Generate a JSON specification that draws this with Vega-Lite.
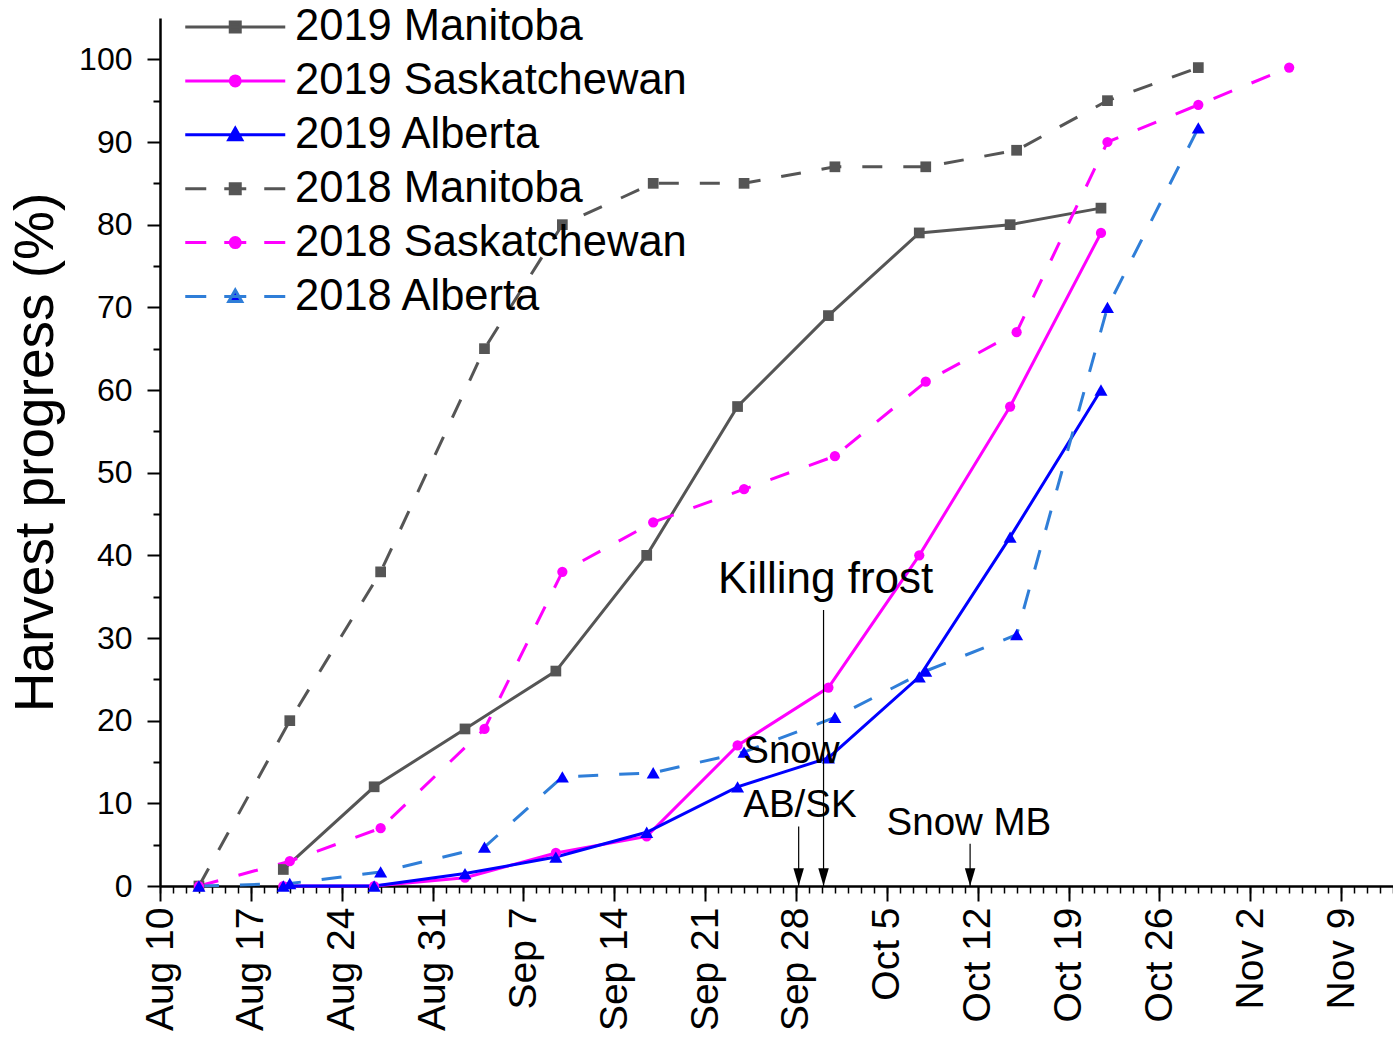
{
  "$schema": "https://vega.github.io/schema/vega-lite/v6.json",
  "width": 1233,
  "height": 868,
  "autosize": {"type": "none"},
  "padding": {"left": 160, "top": 18, "right": 0, "bottom": 153},
  "background": "white",
  "config": {"view": {"stroke": null}, "font": "Liberation Sans"},
  "datasets": {
    "progress": [
      {"series": "2019 Manitoba", "year": 2019, "province": "Manitoba", "day": "2019-08-19T12:00:00Z", "pct": 2},
      {"series": "2019 Manitoba", "year": 2019, "province": "Manitoba", "day": "2019-08-26T12:00:00Z", "pct": 12},
      {"series": "2019 Manitoba", "year": 2019, "province": "Manitoba", "day": "2019-09-02T12:00:00Z", "pct": 19},
      {"series": "2019 Manitoba", "year": 2019, "province": "Manitoba", "day": "2019-09-09T12:00:00Z", "pct": 26},
      {"series": "2019 Manitoba", "year": 2019, "province": "Manitoba", "day": "2019-09-16T12:00:00Z", "pct": 40},
      {"series": "2019 Manitoba", "year": 2019, "province": "Manitoba", "day": "2019-09-23T12:00:00Z", "pct": 58},
      {"series": "2019 Manitoba", "year": 2019, "province": "Manitoba", "day": "2019-09-30T12:00:00Z", "pct": 69},
      {"series": "2019 Manitoba", "year": 2019, "province": "Manitoba", "day": "2019-10-07T12:00:00Z", "pct": 79},
      {"series": "2019 Manitoba", "year": 2019, "province": "Manitoba", "day": "2019-10-14T12:00:00Z", "pct": 80},
      {"series": "2019 Manitoba", "year": 2019, "province": "Manitoba", "day": "2019-10-21T12:00:00Z", "pct": 82},
      {"series": "2019 Saskatchewan", "year": 2019, "province": "Saskatchewan", "day": "2019-08-19T12:00:00Z", "pct": 0},
      {"series": "2019 Saskatchewan", "year": 2019, "province": "Saskatchewan", "day": "2019-08-26T12:00:00Z", "pct": 0},
      {"series": "2019 Saskatchewan", "year": 2019, "province": "Saskatchewan", "day": "2019-09-02T12:00:00Z", "pct": 1},
      {"series": "2019 Saskatchewan", "year": 2019, "province": "Saskatchewan", "day": "2019-09-09T12:00:00Z", "pct": 4},
      {"series": "2019 Saskatchewan", "year": 2019, "province": "Saskatchewan", "day": "2019-09-16T12:00:00Z", "pct": 6},
      {"series": "2019 Saskatchewan", "year": 2019, "province": "Saskatchewan", "day": "2019-09-23T12:00:00Z", "pct": 17},
      {"series": "2019 Saskatchewan", "year": 2019, "province": "Saskatchewan", "day": "2019-09-30T12:00:00Z", "pct": 24},
      {"series": "2019 Saskatchewan", "year": 2019, "province": "Saskatchewan", "day": "2019-10-07T12:00:00Z", "pct": 40},
      {"series": "2019 Saskatchewan", "year": 2019, "province": "Saskatchewan", "day": "2019-10-14T12:00:00Z", "pct": 58},
      {"series": "2019 Saskatchewan", "year": 2019, "province": "Saskatchewan", "day": "2019-10-21T12:00:00Z", "pct": 79},
      {"series": "2019 Alberta", "year": 2019, "province": "Alberta", "day": "2019-08-19T12:00:00Z", "pct": 0},
      {"series": "2019 Alberta", "year": 2019, "province": "Alberta", "day": "2019-08-26T12:00:00Z", "pct": 0},
      {"series": "2019 Alberta", "year": 2019, "province": "Alberta", "day": "2019-09-02T12:00:00Z", "pct": 1.5},
      {"series": "2019 Alberta", "year": 2019, "province": "Alberta", "day": "2019-09-09T12:00:00Z", "pct": 3.5},
      {"series": "2019 Alberta", "year": 2019, "province": "Alberta", "day": "2019-09-16T12:00:00Z", "pct": 6.5},
      {"series": "2019 Alberta", "year": 2019, "province": "Alberta", "day": "2019-09-23T12:00:00Z", "pct": 12},
      {"series": "2019 Alberta", "year": 2019, "province": "Alberta", "day": "2019-09-30T12:00:00Z", "pct": 15.5},
      {"series": "2019 Alberta", "year": 2019, "province": "Alberta", "day": "2019-10-07T12:00:00Z", "pct": 25.3},
      {"series": "2019 Alberta", "year": 2019, "province": "Alberta", "day": "2019-10-14T12:00:00Z", "pct": 42.2},
      {"series": "2019 Alberta", "year": 2019, "province": "Alberta", "day": "2019-10-21T12:00:00Z", "pct": 60},
      {"series": "2018 Manitoba", "year": 2018, "province": "Manitoba", "day": "2019-08-13T00:00:00Z", "pct": 0},
      {"series": "2018 Manitoba", "year": 2018, "province": "Manitoba", "day": "2019-08-20T00:00:00Z", "pct": 20},
      {"series": "2018 Manitoba", "year": 2018, "province": "Manitoba", "day": "2019-08-27T00:00:00Z", "pct": 38},
      {"series": "2018 Manitoba", "year": 2018, "province": "Manitoba", "day": "2019-09-04T00:00:00Z", "pct": 65},
      {"series": "2018 Manitoba", "year": 2018, "province": "Manitoba", "day": "2019-09-10T00:00:00Z", "pct": 80},
      {"series": "2018 Manitoba", "year": 2018, "province": "Manitoba", "day": "2019-09-17T00:00:00Z", "pct": 85},
      {"series": "2018 Manitoba", "year": 2018, "province": "Manitoba", "day": "2019-09-24T00:00:00Z", "pct": 85},
      {"series": "2018 Manitoba", "year": 2018, "province": "Manitoba", "day": "2019-10-01T00:00:00Z", "pct": 87},
      {"series": "2018 Manitoba", "year": 2018, "province": "Manitoba", "day": "2019-10-08T00:00:00Z", "pct": 87},
      {"series": "2018 Manitoba", "year": 2018, "province": "Manitoba", "day": "2019-10-15T00:00:00Z", "pct": 89},
      {"series": "2018 Manitoba", "year": 2018, "province": "Manitoba", "day": "2019-10-22T00:00:00Z", "pct": 95},
      {"series": "2018 Manitoba", "year": 2018, "province": "Manitoba", "day": "2019-10-29T00:00:00Z", "pct": 99},
      {"series": "2018 Saskatchewan", "year": 2018, "province": "Saskatchewan", "day": "2019-08-13T00:00:00Z", "pct": 0},
      {"series": "2018 Saskatchewan", "year": 2018, "province": "Saskatchewan", "day": "2019-08-20T00:00:00Z", "pct": 3},
      {"series": "2018 Saskatchewan", "year": 2018, "province": "Saskatchewan", "day": "2019-08-27T00:00:00Z", "pct": 7},
      {"series": "2018 Saskatchewan", "year": 2018, "province": "Saskatchewan", "day": "2019-09-04T00:00:00Z", "pct": 19},
      {"series": "2018 Saskatchewan", "year": 2018, "province": "Saskatchewan", "day": "2019-09-10T00:00:00Z", "pct": 38},
      {"series": "2018 Saskatchewan", "year": 2018, "province": "Saskatchewan", "day": "2019-09-17T00:00:00Z", "pct": 44},
      {"series": "2018 Saskatchewan", "year": 2018, "province": "Saskatchewan", "day": "2019-09-24T00:00:00Z", "pct": 48},
      {"series": "2018 Saskatchewan", "year": 2018, "province": "Saskatchewan", "day": "2019-10-01T00:00:00Z", "pct": 52},
      {"series": "2018 Saskatchewan", "year": 2018, "province": "Saskatchewan", "day": "2019-10-08T00:00:00Z", "pct": 61},
      {"series": "2018 Saskatchewan", "year": 2018, "province": "Saskatchewan", "day": "2019-10-15T00:00:00Z", "pct": 67},
      {"series": "2018 Saskatchewan", "year": 2018, "province": "Saskatchewan", "day": "2019-10-22T00:00:00Z", "pct": 90},
      {"series": "2018 Saskatchewan", "year": 2018, "province": "Saskatchewan", "day": "2019-10-29T00:00:00Z", "pct": 94.5},
      {"series": "2018 Saskatchewan", "year": 2018, "province": "Saskatchewan", "day": "2019-11-05T00:00:00Z", "pct": 99},
      {"series": "2018 Alberta", "year": 2018, "province": "Alberta", "day": "2019-08-13T00:00:00Z", "pct": 0},
      {"series": "2018 Alberta", "year": 2018, "province": "Alberta", "day": "2019-08-20T00:00:00Z", "pct": 0.3},
      {"series": "2018 Alberta", "year": 2018, "province": "Alberta", "day": "2019-08-27T00:00:00Z", "pct": 1.7},
      {"series": "2018 Alberta", "year": 2018, "province": "Alberta", "day": "2019-09-04T00:00:00Z", "pct": 4.7},
      {"series": "2018 Alberta", "year": 2018, "province": "Alberta", "day": "2019-09-10T00:00:00Z", "pct": 13.2},
      {"series": "2018 Alberta", "year": 2018, "province": "Alberta", "day": "2019-09-17T00:00:00Z", "pct": 13.7},
      {"series": "2018 Alberta", "year": 2018, "province": "Alberta", "day": "2019-09-24T00:00:00Z", "pct": 16.2},
      {"series": "2018 Alberta", "year": 2018, "province": "Alberta", "day": "2019-10-01T00:00:00Z", "pct": 20.4},
      {"series": "2018 Alberta", "year": 2018, "province": "Alberta", "day": "2019-10-08T00:00:00Z", "pct": 26},
      {"series": "2018 Alberta", "year": 2018, "province": "Alberta", "day": "2019-10-15T00:00:00Z", "pct": 30.4},
      {"series": "2018 Alberta", "year": 2018, "province": "Alberta", "day": "2019-10-22T00:00:00Z", "pct": 70},
      {"series": "2018 Alberta", "year": 2018, "province": "Alberta", "day": "2019-10-29T00:00:00Z", "pct": 91.7}
    ],
    "arrows": [
      {"event": "Killing frost", "day": "2019-09-30T03:00:00Z", "base": 0, "top": 33.4},
      {"event": "Snow AB/SK", "day": "2019-09-28T05:00:00Z", "base": 0, "top": 7.2},
      {"event": "Snow MB", "day": "2019-10-11T10:00:00Z", "base": 0, "top": 5.1}
    ],
    "notes": [
      {"label": "Killing frost", "kind": "frost", "day": "2019-09-30T07:00:00Z", "pct": 35.4},
      {"label": "Snow", "kind": "snow", "day": "2019-09-23T22:30:00Z", "pct": 14.9},
      {"label": "AB/SK", "kind": "snow", "day": "2019-09-23T22:30:00Z", "pct": 8.4},
      {"label": "Snow MB", "kind": "snow", "day": "2019-10-04T23:30:00Z", "pct": 6.2}
    ]
  },
  "layer": [
    {
      "data": {"name": "progress"},
      "transform": [{"filter": "false"}],
      "mark": {"type": "point", "filled": true, "strokeWidth": 3, "opacity": 1},
      "encoding": {
        "x": {"field": "day", "type": "temporal", "axis": null},
        "y": {"field": "pct", "type": "quantitative", "axis": null},
        "fill": {
          "field": "series", "type": "nominal",
          "scale": {
            "domain": ["2019 Manitoba", "2019 Saskatchewan", "2019 Alberta", "2018 Manitoba", "2018 Saskatchewan", "2018 Alberta"],
            "range": ["#555555", "#ff00ff", "#0000ff", "#555555", "#ff00ff", "#0000ff"]
          },
          "legend": {
            "orient": "none", "legendX": 53.5, "legendY": -12.75, "title": null, "direction": "vertical",
            "padding": 0, "labelFontSize": 43.5, "labelFont": "Liberation Sans", "labelColor": "#000000",
            "labelLimit": 800, "labelOffset": 38, "rowPadding": 8.9,
            "symbolSize": 400, "symbolStrokeWidth": 3, "symbolOpacity": 1
          }
        },
        "stroke": {
          "field": "series", "type": "nominal",
          "scale": {
            "domain": ["2019 Manitoba", "2019 Saskatchewan", "2019 Alberta", "2018 Manitoba", "2018 Saskatchewan", "2018 Alberta"],
            "range": ["#555555", "#ff00ff", "#0000ff", "#555555", "#ff00ff", "#2f7ed8"]
          }
        },
        "shape": {
          "field": "series", "type": "nominal",
          "scale": {
            "domain": ["2019 Manitoba", "2019 Saskatchewan", "2019 Alberta", "2018 Manitoba", "2018 Saskatchewan", "2018 Alberta"],
            "range": [
              "M-5,0L5,0M-0.5,-0.5L0.5,-0.5L0.5,0.5L-0.5,0.5Z",
              "M-5,0L5,0M-0.5,0A0.5,0.5 0 1,0 0.5,0A0.5,0.5 0 1,0 -0.5,0Z",
              "M-5,0L5,0M0,-0.65L0.65,0.5L-0.65,0.5Z",
              "M-5,0L-2.9,0M-1.1,0L1.1,0M2.9,0L5,0M-0.5,-0.5L0.5,-0.5L0.5,0.5L-0.5,0.5Z",
              "M-5,0L-2.9,0M-1.1,0L1.1,0M2.9,0L5,0M-0.5,0A0.5,0.5 0 1,0 0.5,0A0.5,0.5 0 1,0 -0.5,0Z",
              "M-5,0L-2.9,0M-1.1,0L1.1,0M2.9,0L5,0M0,-0.65L0.65,0.5L-0.65,0.5Z"
            ]
          }
        }
      }
    },
    {
      "data": {"name": "progress"},
      "transform": [{"filter": "datum.year === 2019"}],
      "mark": {"type": "line", "strokeWidth": 3},
      "encoding": {
        "x": {
          "field": "day", "type": "temporal",
          "scale": {"type": "utc", "nice": false, "domain": [
            {"year": 2019, "month": "aug", "date": 10, "utc": true},
            {"year": 2019, "month": "nov", "date": 13, "utc": true}
          ]},
          "axis": {
            "title": null, "grid": false, "format": "%b %-d",
            "values": [
              {"year": 2019, "month": "aug", "date": 10, "utc": true},
              {"year": 2019, "month": "aug", "date": 17, "utc": true},
              {"year": 2019, "month": "aug", "date": 24, "utc": true},
              {"year": 2019, "month": "aug", "date": 31, "utc": true},
              {"year": 2019, "month": "sep", "date": 7, "utc": true},
              {"year": 2019, "month": "sep", "date": 14, "utc": true},
              {"year": 2019, "month": "sep", "date": 21, "utc": true},
              {"year": 2019, "month": "sep", "date": 28, "utc": true},
              {"year": 2019, "month": "oct", "date": 5, "utc": true},
              {"year": 2019, "month": "oct", "date": 12, "utc": true},
              {"year": 2019, "month": "oct", "date": 19, "utc": true},
              {"year": 2019, "month": "oct", "date": 26, "utc": true},
              {"year": 2019, "month": "nov", "date": 2, "utc": true},
              {"year": 2019, "month": "nov", "date": 9, "utc": true}
            ],
            "labelAngle": -90, "labelFontSize": 39, "labelFont": "Liberation Sans", "labelColor": "#000000",
            "labelPadding": 6, "labelOverlap": false, "labelFlush": false, "labelBound": false,
            "tickSize": 15, "tickWidth": 2, "tickColor": "#000000",
            "domainColor": "#000000", "domainWidth": 2.5
          }
        },
        "y": {
          "field": "pct", "type": "quantitative",
          "scale": {"domain": [0, 105], "nice": false, "zero": false},
          "axis": {
            "title": "Harvest progress (%)", "grid": false,
            "values": [0, 10, 20, 30, 40, 50, 60, 70, 80, 90, 100],
            "labelFontSize": 32, "labelFont": "Liberation Sans", "labelColor": "#000000", "labelPadding": 15,
            "tickSize": 13, "tickWidth": 2, "tickColor": "#000000",
            "domainColor": "#000000", "domainWidth": 2.5,
            "titleFont": "Liberation Sans", "titleFontSize": 55, "titleFontWeight": "normal", "titleColor": "#000000",
            "titleAngle": -90, "titleX": -108, "titleY": 434, "titleAlign": "center", "titleBaseline": "alphabetic"
          }
        },
        "color": {
          "field": "series", "type": "nominal",
          "scale": {
            "domain": ["2019 Manitoba", "2019 Saskatchewan", "2019 Alberta", "2018 Manitoba", "2018 Saskatchewan", "2018 Alberta"],
            "range": ["#555555", "#ff00ff", "#0000ff", "#555555", "#ff00ff", "#2f7ed8"]
          }
        }
      }
    },
    {
      "data": {"name": "progress"},
      "transform": [{"filter": "datum.year === 2018"}],
      "mark": {"type": "line", "strokeWidth": 3, "strokeDash": [20, 21]},
      "encoding": {
        "x": {"field": "day", "type": "temporal", "axis": null},
        "y": {"field": "pct", "type": "quantitative", "axis": null},
        "color": {"field": "series", "type": "nominal"}
      }
    },
    {
      "data": {"name": "progress"},
      "transform": [{"filter": "datum.province === 'Manitoba'"}],
      "mark": {"type": "point", "filled": true, "shape": "square", "size": 115, "opacity": 1},
      "encoding": {
        "x": {"field": "day", "type": "temporal",
          "axis": {"title": null, "grid": false, "labels": false, "domain": false, "orient": "bottom",
            "tickCount": {"interval": "day", "step": 1}, "tickSize": 7, "tickWidth": 1.5, "tickColor": "#000000"}},
        "y": {"field": "pct", "type": "quantitative",
          "axis": {"title": null, "grid": false, "labels": false, "domain": false, "orient": "left",
            "values": [5, 15, 25, 35, 45, 55, 65, 75, 85, 95], "tickSize": 7, "tickWidth": 2, "tickColor": "#000000"}},
        "fill": {"field": "series", "type": "nominal"}
      }
    },
    {
      "data": {"name": "progress"},
      "transform": [{"filter": "datum.province === 'Saskatchewan'"}],
      "mark": {"type": "point", "filled": true, "shape": "circle", "size": 105, "opacity": 1},
      "encoding": {
        "x": {"field": "day", "type": "temporal", "axis": null},
        "y": {"field": "pct", "type": "quantitative", "axis": null},
        "fill": {"field": "series", "type": "nominal"}
      }
    },
    {
      "data": {"name": "progress"},
      "transform": [{"filter": "datum.province === 'Alberta'"}],
      "mark": {"type": "point", "filled": true, "shape": "triangle-up", "size": 170, "opacity": 1},
      "encoding": {
        "x": {"field": "day", "type": "temporal", "axis": null},
        "y": {"field": "pct", "type": "quantitative", "axis": null},
        "fill": {"field": "series", "type": "nominal"}
      }
    },
    {
      "data": {"name": "arrows"},
      "mark": {"type": "rule", "color": "#000000", "strokeWidth": 1.2},
      "encoding": {
        "x": {"field": "day", "type": "temporal", "axis": null},
        "y": {"field": "base", "type": "quantitative", "axis": null},
        "y2": {"field": "top"}
      }
    },
    {
      "data": {"name": "arrows"},
      "mark": {"type": "point", "filled": true, "color": "#000000", "opacity": 1, "size": 110, "shape": "M-1,-3.4L1,-3.4L0,0Z"},
      "encoding": {
        "x": {"field": "day", "type": "temporal", "axis": null},
        "y": {"field": "base", "type": "quantitative", "axis": null}
      }
    },
    {
      "data": {"name": "notes"},
      "transform": [{"filter": "datum.kind === 'frost'"}],
      "mark": {"type": "text", "font": "Liberation Sans", "fontSize": 44, "color": "#000000", "align": "center", "baseline": "alphabetic"},
      "encoding": {
        "x": {"field": "day", "type": "temporal", "axis": null},
        "y": {"field": "pct", "type": "quantitative", "axis": null},
        "text": {"field": "label", "type": "nominal"}
      }
    },
    {
      "data": {"name": "notes"},
      "transform": [{"filter": "datum.kind === 'snow'"}],
      "mark": {"type": "text", "font": "Liberation Sans", "fontSize": 38.5, "color": "#000000", "align": "left", "baseline": "alphabetic"},
      "encoding": {
        "x": {"field": "day", "type": "temporal", "axis": null},
        "y": {"field": "pct", "type": "quantitative", "axis": null},
        "text": {"field": "label", "type": "nominal"}
      }
    }
  ],
  "resolve": {"axis": {"x": "independent", "y": "independent"}}
}
